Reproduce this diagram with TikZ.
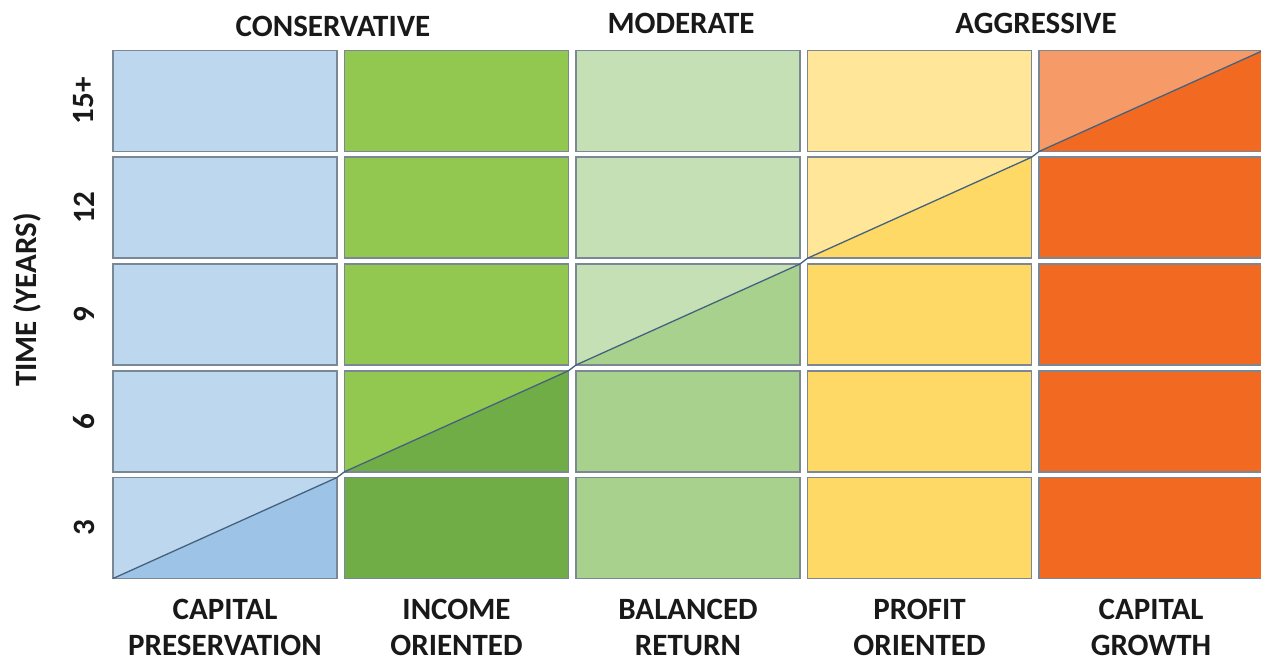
\documentclass[tikz,border=0pt]{standalone}
\usepackage{fontspec}
\setmainfont{Carlito}
\usepackage{tikz}
\usetikzlibrary{positioning}
\usetikzlibrary{calc}
\definecolor{bluelight}{HTML}{BDD7EE}
\definecolor{bluedark}{HTML}{9DC3E6}
\definecolor{greenbright}{HTML}{92C84F}
\definecolor{greendark}{HTML}{70AD47}
\definecolor{greenpale}{HTML}{C5E0B4}
\definecolor{greenmid}{HTML}{A9D18E}
\definecolor{yellowpale}{HTML}{FFE699}
\definecolor{yellowmid}{HTML}{FFD966}
\definecolor{orangepale}{HTML}{F69A68}
\definecolor{orangedark}{HTML}{F26A22}
\definecolor{cellborder}{HTML}{7A8896}
\definecolor{diagline}{HTML}{44627E}

\begin{document}
\begin{tikzpicture}[x=1pt,y=-1pt,node distance=5.75pt and 7.5pt,
  font=\fontsize{31}{36}\selectfont\bfseries]
  \tikzstyle{cell}=[rectangle,draw=cellborder,line width=1.6pt,minimum width=224pt,minimum height=101pt,inner sep=0pt,outer sep=0pt]
  \tikzstyle{lowerhalf}=[path picture={\fill[#1] (path picture bounding box.south west) -- (path picture bounding box.south east) -- (path picture bounding box.north east) -- cycle;}]
  \tikzstyle{heading}=[text=black!90,align=center,inner sep=0pt]
  \tikzstyle{rowlabel}=[text=black!90,rotate=90,inner sep=0pt]

  \useasboundingbox (0,0) rectangle (1261,661);

  \node[cell,fill=bluelight]                    (c11) at (225,101) {};
  \node[cell,fill=greenbright] (c12) [right=of c11] {};
  \node[cell,fill=greenpale]   (c13) [right=of c12] {};
  \node[cell,fill=yellowpale]  (c14) [right=of c13] {};
  \node[cell,fill=orangepale,lowerhalf=orangedark] (c15) [right=of c14] {};

  \node[cell,fill=bluelight]   (c21) [below=of c11] {};
  \node[cell,fill=greenbright] (c22) [right=of c21] {};
  \node[cell,fill=greenpale]   (c23) [right=of c22] {};
  \node[cell,fill=yellowpale,lowerhalf=yellowmid] (c24) [right=of c23] {};
  \node[cell,fill=orangedark]  (c25) [right=of c24] {};

  \node[cell,fill=bluelight]   (c31) [below=of c21] {};
  \node[cell,fill=greenbright] (c32) [right=of c31] {};
  \node[cell,fill=greenpale,lowerhalf=greenmid] (c33) [right=of c32] {};
  \node[cell,fill=yellowmid]   (c34) [right=of c33] {};
  \node[cell,fill=orangedark]  (c35) [right=of c34] {};

  \node[cell,fill=bluelight]   (c41) [below=of c31] {};
  \node[cell,fill=greenbright,lowerhalf=greendark] (c42) [right=of c41] {};
  \node[cell,fill=greenmid]    (c43) [right=of c42] {};
  \node[cell,fill=yellowmid]   (c44) [right=of c43] {};
  \node[cell,fill=orangedark]  (c45) [right=of c44] {};

  \node[cell,fill=bluelight,lowerhalf=bluedark] (c51) [below=of c41] {};
  \node[cell,fill=greendark]   (c52) [right=of c51] {};
  \node[cell,fill=greenmid]    (c53) [right=of c52] {};
  \node[cell,fill=yellowmid]   (c54) [right=of c53] {};
  \node[cell,fill=orangedark]  (c55) [right=of c54] {};

  \draw[diagline,line width=1.3pt] (c51.south west) -- (c51.north east) -- (c42.south west) -- (c42.north east)
      -- (c33.south west) -- (c33.north east) -- (c24.south west) -- (c24.north east)
      -- (c15.south west) -- (c15.north east);

  \node[heading] (cons) at (333,26) {CONSERVATIVE};
  \node[heading] (mod)  at (681,23) {MODERATE};
  \node[heading] (aggr) at (1036,23) {AGGRESSIVE};

  \node[heading] (pres)   at ($(c51.south)+(0,48.5)$) {CAPITAL\\PRESERVATION};
  \node[heading] (income) at ($(c52.south)+(0,48.5)$) {INCOME\\ORIENTED};
  \node[heading] (bal)    at ($(c53.south)+(0,48.5)$) {BALANCED\\RETURN};
  \node[heading] (profit) at ($(c54.south)+(0,48.5)$) {PROFIT\\ORIENTED};
  \node[heading] (growth) at ($(c55.south)+(0,48.5)$) {CAPITAL\\GROWTH};

  \node[rowlabel] (y15) at ($(c11.west)+(-29,0)$) {15+};
  \node[rowlabel] (y12) at ($(c21.west)+(-29,0)$) {12};
  \node[rowlabel] (y9)  at ($(c31.west)+(-29,0)$) {9};
  \node[rowlabel] (y6)  at ($(c41.west)+(-29,0)$) {6};
  \node[rowlabel] (y3)  at ($(c51.west)+(-29,0)$) {3};
  \node[rowlabel] (time) at (27,300) {TIME (YEARS)};
\end{tikzpicture}
\end{document}
